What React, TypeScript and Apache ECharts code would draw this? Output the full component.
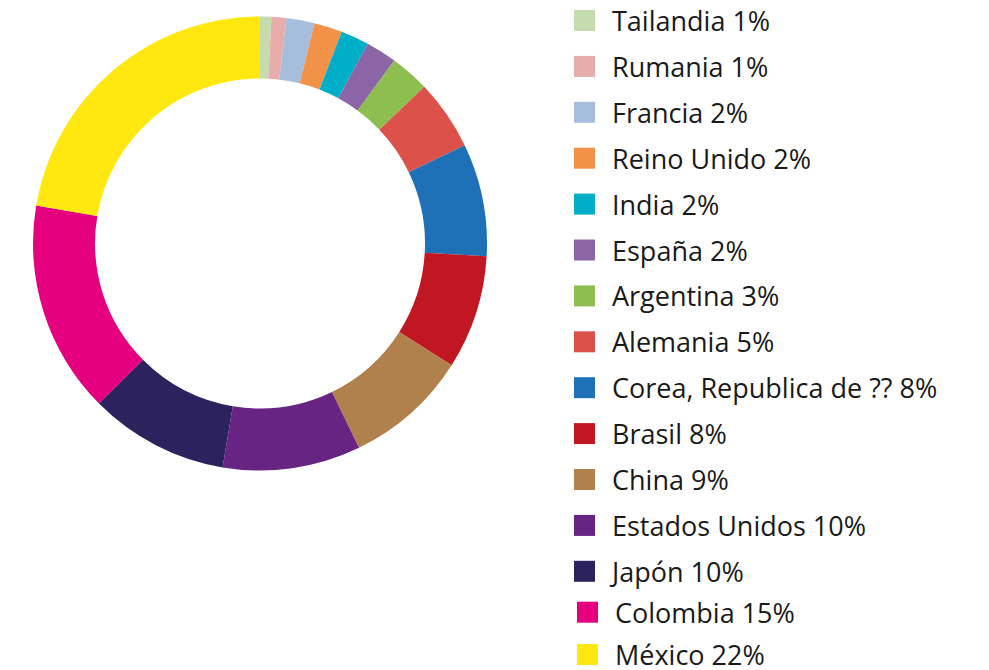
import React, { useEffect, useRef } from "react";
import * as echarts from "echarts";

const countries = [
  "Tailandia",
  "Rumania",
  "Francia",
  "Reino Unido",
  "India",
  "España",
  "Argentina",
  "Alemania",
  "Corea, Republica de ??",
  "Brasil",
  "China",
  "Estados Unidos",
  "Japón",
  "Colombia",
  "México",
];
const shares = [0.8, 1.06, 2.0, 2.0, 2.0, 2.2, 2.8, 5.0, 8.0, 8.1, 8.8, 9.8, 9.9, 15.1, 22.3];
const colors = [
  "#c5dcaf",
  "#e8acab",
  "#a6bedc",
  "#f29249",
  "#01aec8",
  "#8b65a6",
  "#8fbe50",
  "#dd514b",
  "#1e70b7",
  "#c01722",
  "#b1814d",
  "#682483",
  "#2b225e",
  "#e5007f",
  "#ffe80f",
];

export default function App() {
  const ref = useRef<HTMLDivElement>(null);
  useEffect(() => {
    if (!ref.current) return;
    const chart = echarts.init(ref.current, undefined, { renderer: "svg" });
    const total = shares.reduce((a, b) => a + b, 0);
    const pctOf: Record<string, number> = {};
    countries.forEach((c, i) => {
      pctOf[c] = Math.round((shares[i] / total) * 100);
    });
    const textStyle = {
      fontFamily: "'Open Sans', sans-serif",
      fontSize: 27,
      color: "#1a1a1a",
      lineHeight: 27,
      padding: [0, 0, 0, 12],
    };
    const legendBase = {
      type: "plain" as const,
      orient: "vertical" as const,
      icon: "rect",
      itemWidth: 21,
      itemHeight: 21,
      padding: 0,
      height: 660,
      selectedMode: false,
      formatter: (name: string) => `${name} ${pctOf[name]}%`,
      textStyle,
    };
    chart.setOption({
      animation: false,
      color: colors,
      legend: [
        {
          ...legendBase,
          left: 574,
          top: 7,
          itemGap: 18.9,
          data: countries.slice(0, 13),
        },
        {
          ...legendBase,
          left: 577,
          top: 598.7,
          height: 120,
          itemGap: 15.3,
          data: countries.slice(13),
        },
      ],
      series: [
        {
          type: "pie",
          center: [260, 243.5],
          radius: [165, 227],
          startAngle: 90,
          clockwise: true,
          label: { show: false },
          labelLine: { show: false },
          emphasis: { disabled: true },
          itemStyle: { borderWidth: 0 },
          data: countries.map((name, i) => ({ name, value: shares[i] })),
        },
      ],
    });
    return () => chart.dispose();
  }, []);
  return (
    <div
      ref={ref}
      style={{ position: "fixed", left: 0, top: 0, width: 989, height: 670, background: "#fff" }}
    />
  );
}
